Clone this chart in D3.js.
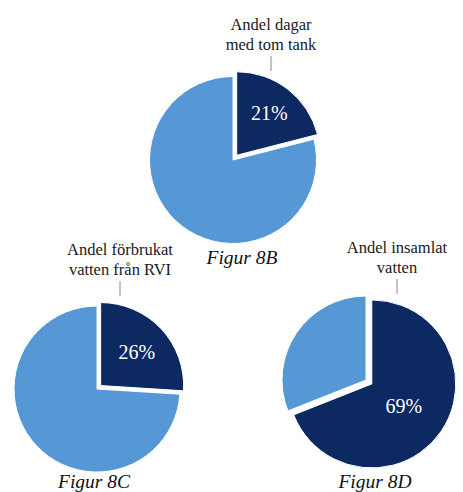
<!DOCTYPE html>
<html>
<head>
    <meta charset="utf-8">
    <title>Figur 8B-8D</title>
    <script src="https://d3js.org/d3.v7.min.js"></script>
    <style>
        body { margin: 0; background: #fff; }
        svg { display: block; }
    </style>
</head>
<body>
    <svg></svg>
    <script>
        // data
        const figures = ["Figur 8B", "Figur 8C", "Figur 8D"];
        const seriesTitles = [
            ["Andel dagar", "med tom tank"],
            ["Andel förbrukat", "vatten från RVI"],
            ["Andel insamlat", "vatten"]
        ];
        const shares = [21, 26, 69];   // percent, the dark slice

        // where each pie sits (layout only)
        const layout = [
            { cx: 233, cy: 160, r: 83.5, explode: 6, labelR: 0.64, titleX: 271, titleY: 30, figX: 242, figY: 264 },
            { cx: 97,  cy: 389, r: 83,   explode: 5, labelR: 0.6,  titleX: 120, titleY: 255, figX: 94, figY: 488 },
            { cx: 366, cy: 380, r: 84,   explode: 7, labelR: 0.46, titleX: 397, titleY: 253, figX: 375, figY: 488 }
        ];

        const width = 463, height = 492;
        const dark = "#0c2a61", light = "#5598d5";
        const serif = "'Liberation Serif', 'DejaVu Serif', serif";

        const svg = d3.select("svg").attr("width", width).attr("height", height);

        const pie = d3.pie().sort(null).value(d => d);

        figures.forEach((fig, i) => {
            const L = layout[i];
            const slices = pie([shares[i], 100 - shares[i]]);
            const arc = d3.arc().innerRadius(0).outerRadius(L.r);
            const g = svg.append("g").attr("transform", `translate(${L.cx},${L.cy})`);

            // the dark slice is pulled out along its middle angle
            const offset = d => {
                if (d.index !== 0) return [0, 0];
                const mid = (d.startAngle + d.endAngle) / 2;
                return [Math.sin(mid) * L.explode, -Math.cos(mid) * L.explode];
            };

            g.selectAll("path")
                .data(slices)
                .enter().append("path")
                .attr("d", arc)
                .attr("transform", d => `translate(${offset(d)})`)
                .attr("fill", d => d.index === 0 ? dark : light)
                .attr("stroke", "#fff")
                .attr("stroke-width", 1);

            // percent label inside the dark slice
            const s = slices[0];
            const labelArc = d3.arc().innerRadius(0).outerRadius(L.r * L.labelR * 2);
            const [lx, ly] = labelArc.centroid(s);
            const [ox, oy] = offset(s);
            g.append("text")
                .attr("x", lx + ox)
                .attr("y", ly + oy)
                .attr("text-anchor", "middle")
                .attr("dominant-baseline", "central")
                .attr("fill", "#fff")
                .attr("font-family", serif)
                .attr("font-size", 20)
                .text(shares[i] + "%");

            // series title above with a short leader line
            const title = svg.append("text")
                .attr("text-anchor", "middle")
                .attr("font-family", serif)
                .attr("font-size", 16.5)
                .attr("fill", "#1a1a1a");
            seriesTitles[i].forEach((line, j) => {
                title.append("tspan")
                    .attr("x", L.titleX)
                    .attr("y", L.titleY + j * 20)
                    .text(line);
            });
            const lineTop = L.titleY + 20 + 6;
            svg.append("line")
                .attr("x1", L.titleX).attr("x2", L.titleX)
                .attr("y1", lineTop).attr("y2", lineTop + 15)
                .attr("stroke", "#888")
                .attr("stroke-width", 1);

            // figure caption
            svg.append("text")
                .attr("x", L.figX)
                .attr("y", L.figY)
                .attr("text-anchor", "middle")
                .attr("font-family", serif)
                .attr("font-style", "italic")
                .attr("font-size", 19.5)
                .attr("fill", "#111")
                .text(fig);
        });
    </script>
</body>
</html>
